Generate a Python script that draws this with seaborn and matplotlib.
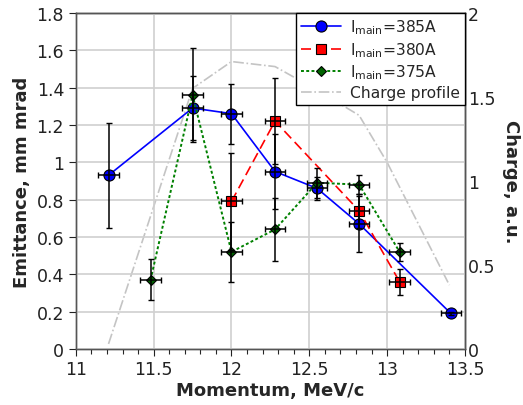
import numpy as np
import pandas as pd
import matplotlib
matplotlib.use("Agg")
import matplotlib.pyplot as plt
import seaborn as sns
from matplotlib.lines import Line2D
from matplotlib.ticker import MultipleLocator

# ---- data ----
x385 = [11.21, 11.75, 12.00, 12.28, 12.55, 12.82, 13.41]
y385 = [0.93, 1.29, 1.26, 0.95, 0.86, 0.67, 0.19]
e385 = [0.28, 0.17, 0.16, 0.20, 0.06, 0.15, 0.01]

x380 = [12.00, 12.28, 12.82, 13.08]
y380 = [0.79, 1.22, 0.74, 0.36]
e380 = [0.26, 0.23, 0.09, 0.07]

x375 = [11.48, 11.75, 12.00, 12.28, 12.55, 12.82, 13.08]
y375 = [0.37, 1.36, 0.52, 0.64, 0.89, 0.88, 0.52]
e375 = [0.11, 0.25, 0.16, 0.17, 0.08, 0.05, 0.05]

x_err = 0.065

x_charge = [11.21, 11.75, 12.00, 12.28, 12.55, 12.82, 13.00, 13.40]
y_charge = [0.03, 1.55, 1.71, 1.68, 1.54, 1.39, 1.11, 0.38]

labels = [r"I$_{\rm main}$=385A", r"I$_{\rm main}$=380A", r"I$_{\rm main}$=375A", "Charge profile"]

sns.set_theme(style="whitegrid")
plt.rcParams['font.family'] = ['DejaVu Sans']
plt.rcParams['mathtext.fontset'] = 'dejavusans'

fig = plt.figure(figsize=(5.23, 4.06), dpi=100)
ax = fig.add_axes([0.145, 0.138, 0.744, 0.828])
ax2 = ax.twinx()

series = [
    (x385, y385, e385, 'blue', 'o', '-', 8, 1.2),
    (x380, y380, e380, 'red', 's', (0, (6, 3)), 7.5, 1.2),
    (x375, y375, e375, 'green', 'D', (0, (1.5, 1.2)), 5.5, 1.4),
]
handles = []
for (xs, ys, es, col, mk, ls, ms, lw), lab in zip(series, labels[:3]):
    df = pd.DataFrame({'x': xs, 'y': ys})
    mfc = 'darkgreen' if col == 'green' else col
    sns.lineplot(data=df, x='x', y='y', ax=ax, color=col, linestyle=ls, lw=lw,
                 marker=mk, markersize=ms, markerfacecolor=mfc,
                 markeredgecolor='black', markeredgewidth=0.8, zorder=3)
    ax.errorbar(xs, ys, yerr=es, xerr=x_err, fmt='none', ecolor='black',
                elinewidth=1.1, capsize=2.2, capthick=1.0, zorder=4)
    handles.append(Line2D([], [], color=col, linestyle=ls, lw=lw, marker=mk,
                          markersize=ms, markerfacecolor=mfc,
                          markeredgecolor='black', markeredgewidth=0.8))

dfc = pd.DataFrame({'x': x_charge, 'y': y_charge})
sns.lineplot(data=dfc, x='x', y='y', ax=ax2, color='#c4c4c4', linestyle='-.', lw=1.2, zorder=1)
handles.append(Line2D([], [], color='#c4c4c4', linestyle='-.', lw=1.2))

ax.set_zorder(ax2.get_zorder() + 1)
ax.patch.set_visible(False)

ax.set_xlim(11, 13.5)
ax.set_ylim(0, 1.8)
ax2.set_ylim(0, 2)
ax.xaxis.set_major_locator(MultipleLocator(0.5))
ax.xaxis.set_minor_locator(MultipleLocator(0.1))
ax.yaxis.set_major_locator(MultipleLocator(0.2))
ax2.yaxis.set_major_locator(MultipleLocator(0.5))

def fmt(v, p):
    return ('%g' % v)
ax.xaxis.set_major_formatter(plt.FuncFormatter(fmt))
ax.yaxis.set_major_formatter(plt.FuncFormatter(fmt))
ax2.yaxis.set_major_formatter(plt.FuncFormatter(fmt))

ax.grid(True, which='major', color='#d0d0d0', lw=1.2)
ax.grid(False, which='minor')
ax2.grid(False)

ax.tick_params(axis='both', which='major', labelsize=12.5, colors='#222222',
               direction='out', length=5, width=0.8, bottom=True, left=True)
ax.tick_params(axis='x', which='minor', direction='out', length=3.5, width=0.8, bottom=True)
ax.tick_params(axis='x', which='major', pad=3)
ax2.tick_params(axis='y', labelsize=12.5, colors='#222222', length=0, pad=2)

for a in (ax, ax2):
    for s in a.spines.values():
        s.set_visible(True)
        s.set_color('#555555')
        s.set_linewidth(1.0)
ax2.spines['top'].set_color('black')
ax2.spines['right'].set_color('black')

ax.set_xlabel('Momentum, MeV/c', fontsize=13, fontweight='bold', labelpad=2)
ax.set_ylabel('Emittance, mm mrad', fontsize=13, fontweight='bold', labelpad=4)
ax2.set_ylabel('Charge, a.u.', fontsize=13, fontweight='bold', rotation=270, labelpad=18)

leg = ax.legend(handles, labels, loc='upper right', bbox_to_anchor=(1.0, 1.0),
                borderaxespad=0, fontsize=11.2, fancybox=False, framealpha=1,
                edgecolor='black', handlelength=2.6, labelspacing=0.25,
                borderpad=0.3, handletextpad=0.6)
leg.get_frame().set_linewidth(1.0)
leg.set_zorder(10)

fig.savefig('out.png', dpi=100)
